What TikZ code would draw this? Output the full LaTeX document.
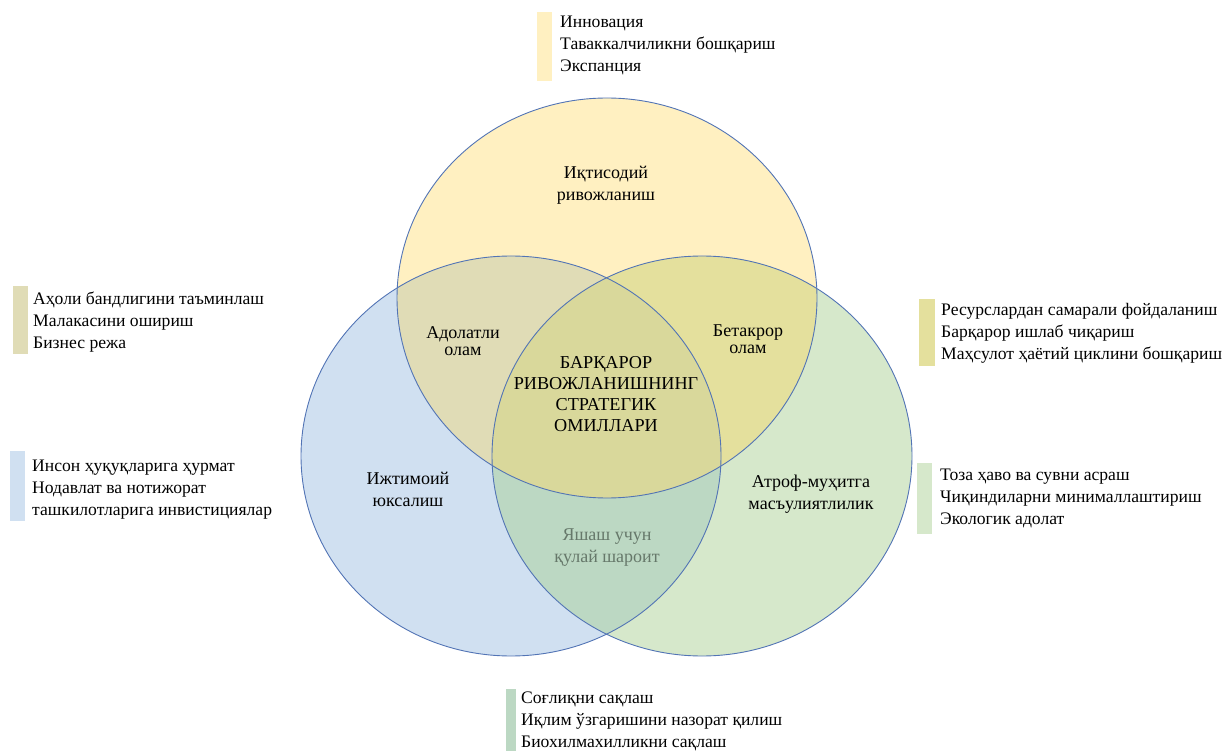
\documentclass[tikz,border=0pt]{standalone}
\usepackage{fontspec}
\setmainfont{Liberation Serif}
\definecolor{cY}{HTML}{FFF0C1}
\definecolor{cB}{HTML}{D0E0F1}
\definecolor{cG}{HTML}{D6E8CB}
\definecolor{cYB}{HTML}{E0DCB6}
\definecolor{cYG}{HTML}{E4E09D}
\definecolor{cBG}{HTML}{BCD8C3}
\definecolor{cYBG}{HTML}{D9D89B}
\definecolor{edgeC}{HTML}{5274B5}
\definecolor{grayT}{HTML}{66786A}
\begin{document}
\begin{tikzpicture}[x=1pt,y=-1pt,
  lbl/.style={align=center, font=\fontsize{18}{22}\selectfont, inner sep=0pt},
  tightlbl/.style={align=center, font=\fontsize{18}{16.5}\selectfont, inner sep=0pt},
  biglbl/.style={align=center, font=\fontsize{18.2}{21}\selectfont, inner sep=0pt},
  item/.style={align=left, anchor=west, font=\fontsize{17.6}{22}\selectfont, inner sep=0pt},
  ring/.style={draw=edgeC, line width=0.9pt}]
\useasboundingbox (0,0) rectangle (1224,751);
% fills
\fill[cY] (607,298) ellipse [x radius=210pt, y radius=200pt];
\fill[cB] (511,456) ellipse [x radius=210pt, y radius=200pt];
\fill[cG] (702,456) ellipse [x radius=210pt, y radius=200pt];
\begin{scope}
  \clip (607,298) ellipse [x radius=210pt, y radius=200pt];
  \fill[cYB] (511,456) ellipse [x radius=210pt, y radius=200pt];
  \fill[cYG] (702,456) ellipse [x radius=210pt, y radius=200pt];
\end{scope}
\begin{scope}
  \clip (511,456) ellipse [x radius=210pt, y radius=200pt];
  \fill[cBG] (702,456) ellipse [x radius=210pt, y radius=200pt];
  \clip (702,456) ellipse [x radius=210pt, y radius=200pt];
  \fill[cYBG] (607,298) ellipse [x radius=210pt, y radius=200pt];
\end{scope}
% outlines
\draw[ring] (607,298) ellipse [x radius=210pt, y radius=200pt];
\draw[ring] (511,456) ellipse [x radius=210pt, y radius=200pt];
\draw[ring] (702,456) ellipse [x radius=210pt, y radius=200pt];
% circle labels
\node[lbl] (econ) at (606,185) {Иқтисодий\\ривожланиш};
\node[tightlbl] (fair) at (463,341) {Адолатли\\олам};
\node[tightlbl] (uniq) at (748,339) {Бетакрор\\олам};
\node[biglbl] (core) at (606,394) {БАРҚАРОР\\РИВОЖЛАНИШНИНГ\\СТРАТЕГИК\\ОМИЛЛАРИ};
\node[lbl] (soc) at (408,489) {Ижтимоий\\юксалиш};
\node[lbl] (env) at (811,494) {Атроф-муҳитга\\масъулиятлилик};
\node[lbl, text=grayT] (live) at (607,548) {Яшаш учун\\қулай шароит};
% side lists
\fill[cY] (537,12) rectangle (552,81);
\node[item] (l1) at (560,45) {Инновация\\Таваккалчиликни бошқариш\\Экспанция};
\fill[cYB] (13,286) rectangle (28,354);
\node[item] (l2) at (33,322) {Аҳоли бандлигини таъминлаш\\Малакасини ошириш\\Бизнес режа};
\fill[cB] (10,451) rectangle (25,521);
\node[item] (l3) at (32,490) {Инсон ҳуқуқларига ҳурмат\\Нодавлат ва нотижорат\\ташкилотларига инвистициялар};
\fill[cYG] (919,299) rectangle (935,366);
\node[item] (l4) at (941,333) {Ресурслардан самарали фойдаланиш\\Барқарор ишлаб чиқариш\\Маҳсулот ҳаётий циклини бошқариш};
\fill[cG] (917,463) rectangle (932,534);
\node[item] (l5) at (940,498) {Тоза ҳаво ва сувни асраш\\Чиқиндиларни минималлаштириш\\Экологик адолат};
\fill[cBG] (506,689) rectangle (516,751);
\node[item] (l6) at (521,721) {Соғлиқни сақлаш\\Иқлим ўзгаришини назорат қилиш\\Биохилмахилликни сақлаш};
\end{tikzpicture}
\end{document}
